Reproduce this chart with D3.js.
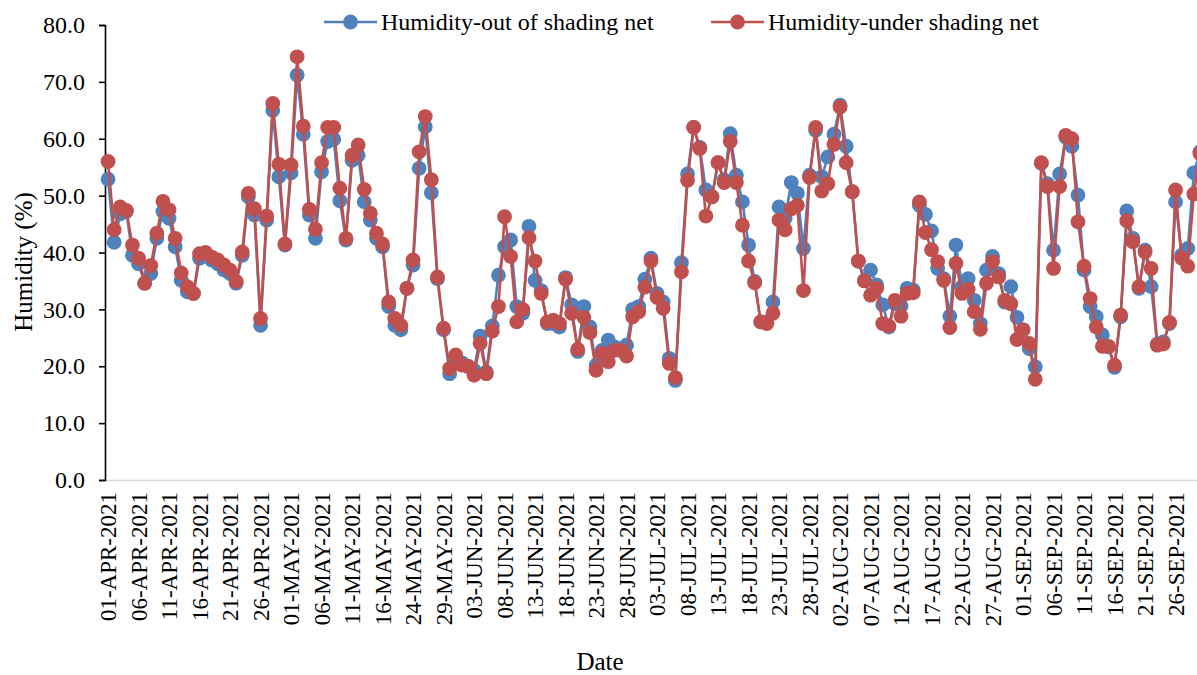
<!DOCTYPE html>
<html><head><meta charset="utf-8">
<script src="https://cdn.jsdelivr.net/npm/d3@7"></script>
<style>body{margin:0;background:#fff;overflow:hidden} svg{display:block}</style>
</head><body>
<svg id="c" width="1197" height="675"></svg>
<script>
const categories = [
"01-APR-2021","02-APR-2021","03-APR-2021","04-APR-2021","05-APR-2021","06-APR-2021","07-APR-2021","08-APR-2021","09-APR-2021","10-APR-2021",
"11-APR-2021","12-APR-2021","13-APR-2021","14-APR-2021","15-APR-2021","16-APR-2021","17-APR-2021","18-APR-2021","19-APR-2021","20-APR-2021",
"21-APR-2021","22-APR-2021","23-APR-2021","24-APR-2021","25-APR-2021","26-APR-2021","27-APR-2021","28-APR-2021","29-APR-2021","30-APR-2021",
"01-MAY-2021","02-MAY-2021","03-MAY-2021","04-MAY-2021","05-MAY-2021","06-MAY-2021","07-MAY-2021","08-MAY-2021","09-MAY-2021","10-MAY-2021",
"11-MAY-2021","12-MAY-2021","13-MAY-2021","14-MAY-2021","15-MAY-2021","16-MAY-2021","17-MAY-2021","18-MAY-2021","22-MAY-2021","23-MAY-2021",
"24-MAY-2021","25-MAY-2021","26-MAY-2021","27-MAY-2021","28-MAY-2021","29-MAY-2021","30-MAY-2021","31-MAY-2021",
"01-JUN-2021","02-JUN-2021","03-JUN-2021","04-JUN-2021","05-JUN-2021","06-JUN-2021","07-JUN-2021","08-JUN-2021","09-JUN-2021","10-JUN-2021",
"11-JUN-2021","12-JUN-2021","13-JUN-2021","14-JUN-2021","15-JUN-2021","16-JUN-2021","17-JUN-2021","18-JUN-2021","19-JUN-2021","20-JUN-2021",
"21-JUN-2021","22-JUN-2021","23-JUN-2021","24-JUN-2021","25-JUN-2021","26-JUN-2021","27-JUN-2021","28-JUN-2021","29-JUN-2021","30-JUN-2021",
"01-JUL-2021","02-JUL-2021","03-JUL-2021","04-JUL-2021","05-JUL-2021","06-JUL-2021","07-JUL-2021","08-JUL-2021","09-JUL-2021","10-JUL-2021",
"11-JUL-2021","12-JUL-2021","13-JUL-2021","14-JUL-2021","15-JUL-2021","16-JUL-2021","17-JUL-2021","18-JUL-2021","19-JUL-2021","20-JUL-2021",
"21-JUL-2021","22-JUL-2021","23-JUL-2021","24-JUL-2021","25-JUL-2021","26-JUL-2021","27-JUL-2021","28-JUL-2021","29-JUL-2021","30-JUL-2021","31-JUL-2021",
"01-AUG-2021","02-AUG-2021","03-AUG-2021","04-AUG-2021","05-AUG-2021","06-AUG-2021","07-AUG-2021","08-AUG-2021","09-AUG-2021","10-AUG-2021",
"11-AUG-2021","12-AUG-2021","13-AUG-2021","14-AUG-2021","15-AUG-2021","16-AUG-2021","17-AUG-2021","18-AUG-2021","19-AUG-2021","20-AUG-2021",
"21-AUG-2021","22-AUG-2021","23-AUG-2021","24-AUG-2021","25-AUG-2021","26-AUG-2021","27-AUG-2021","28-AUG-2021","29-AUG-2021","30-AUG-2021","31-AUG-2021",
"01-SEP-2021","02-SEP-2021","03-SEP-2021","04-SEP-2021","05-SEP-2021","06-SEP-2021","07-SEP-2021","08-SEP-2021","09-SEP-2021","10-SEP-2021",
"11-SEP-2021","12-SEP-2021","13-SEP-2021","14-SEP-2021","15-SEP-2021","16-SEP-2021","17-SEP-2021","18-SEP-2021","19-SEP-2021","20-SEP-2021",
"21-SEP-2021","22-SEP-2021","23-SEP-2021","24-SEP-2021","25-SEP-2021","26-SEP-2021","27-SEP-2021","28-SEP-2021","29-SEP-2021","30-SEP-2021"
];

const humidityOut = [
52.9,41.8,46.8,47.2,39.5,38.0,34.6,36.3,42.5,47.2,
46.0,41.0,35.1,33.1,32.8,39.0,39.5,38.7,38.0,36.9,
36.3,34.6,39.5,49.8,46.6,27.2,45.7,65.0,53.3,41.3,
54.0,71.2,60.8,46.6,42.5,54.2,59.5,59.9,49.1,42.2,
56.2,57.1,48.9,45.7,42.5,41.0,30.5,27.2,26.4,33.7,
37.8,54.8,62.1,50.5,35.4,26.4,18.7,21.1,20.6,20.0,
19.3,25.3,19.0,27.1,36.0,41.0,42.2,30.5,29.3,44.6,
35.1,33.3,27.5,27.5,26.9,35.6,30.8,22.6,30.5,26.9,
20.2,22.8,24.6,23.4,23.1,23.7,30.0,30.5,35.3,39.0,
32.8,31.3,21.4,17.5,38.2,53.8,62.0,58.5,51.0,49.8,
55.8,52.8,60.9,53.6,48.9,41.3,34.9,27.8,27.8,31.3,
48.0,46.0,52.3,50.4,40.7,53.6,61.5,53.3,56.8,60.8,
65.9,58.7,50.7,38.5,35.1,36.9,34.3,30.8,26.9,31.0,
30.6,33.7,33.4,48.3,46.7,43.8,37.2,35.4,28.8,41.3,
34.0,35.4,31.6,27.5,36.9,39.3,36.3,31.3,34.0,28.6,
26.4,23.1,19.9,55.7,52.1,40.4,53.8,60.3,58.7,50.1,
36.9,30.5,28.7,25.5,23.4,19.8,28.7,47.3,42.5,33.7,
40.4,34.0,23.9,24.3,27.5,48.9,39.5,40.7,54.0,57.7
];

const humidityUnder = [
56.0,44.0,48.0,47.4,41.3,39.0,34.6,37.7,43.4,49.0,
47.5,42.5,36.4,34.0,32.8,39.8,40.0,39.2,38.7,37.8,
36.9,34.9,40.1,50.4,47.7,28.4,46.4,66.2,55.5,41.5,
55.4,74.4,62.2,47.6,44.1,55.8,62.0,62.0,51.3,42.5,
57.1,58.9,51.1,46.9,43.4,41.5,31.3,28.4,27.2,33.7,
38.7,57.7,63.9,52.8,35.7,26.7,19.6,22.0,20.2,20.0,
18.4,24.0,18.7,26.2,30.5,46.3,39.3,27.8,30.0,42.6,
38.5,32.8,27.8,28.1,27.5,35.3,29.3,23.0,28.6,25.9,
19.3,22.3,20.8,22.8,22.8,21.8,28.7,29.6,33.9,38.5,
32.1,30.2,20.5,18.0,36.6,52.7,62.0,58.3,46.4,49.8,
55.8,52.3,59.5,52.3,44.8,38.5,34.7,27.8,27.5,29.3,
45.7,44.0,47.7,48.3,33.3,53.2,62.0,50.8,52.1,59.0,
65.6,55.8,50.7,38.5,35.0,32.5,33.7,27.5,27.1,31.6,
28.8,32.8,32.9,48.9,43.5,40.5,38.4,35.1,26.8,38.1,
32.8,33.5,29.6,26.5,34.6,38.4,35.7,31.6,31.0,24.7,
26.4,24.0,17.7,55.8,51.6,37.2,51.6,60.6,60.0,45.4,
37.6,31.9,26.9,23.5,23.5,20.2,29.0,45.6,41.9,34.0,
40.1,37.2,23.7,23.9,27.7,51.0,39.0,37.6,50.3,57.4
];

const yTicks = [0,10,20,30,40,50,60,70,80];

const tickLabels = [
"01-APR-2021","06-APR-2021","11-APR-2021","16-APR-2021","21-APR-2021","26-APR-2021",
"01-MAY-2021","06-MAY-2021","11-MAY-2021","16-MAY-2021","24-MAY-2021","29-MAY-2021",
"03-JUN-2021","08-JUN-2021","13-JUN-2021","18-JUN-2021","23-JUN-2021","28-JUN-2021",
"03-JUL-2021","08-JUL-2021","13-JUL-2021","18-JUL-2021","23-JUL-2021","28-JUL-2021",
"02-AUG-2021","07-AUG-2021","12-AUG-2021","17-AUG-2021","22-AUG-2021","27-AUG-2021",
"01-SEP-2021","06-SEP-2021","11-SEP-2021","16-SEP-2021","21-SEP-2021","26-SEP-2021"
];

const seriesNames = ["Humidity-out of shading net", "Humidity-under shading net"];
const seriesColors = ["#4F81BD", "#C0504D"];
const yTitle = "Humidity (%)";
const xTitle = "Date";

const FONT = "'Liberation Serif','Times New Roman',Times,serif";
const svg = d3.select("#c");

const plotLeft = 105, plotTop = 25, plotBottom = 480, catStep = 6.1;
const x = d3.scaleBand().domain(categories).range([plotLeft, plotLeft + catStep * categories.length]);
const y = d3.scaleLinear().domain([0, 80]).range([plotBottom, plotTop]);
const cx = d => x(d) + x.bandwidth() / 2;

// X axis (light gray baseline, rotated labels)
const xAxis = d3.axisBottom(x).tickValues(tickLabels).tickSize(0).tickPadding(0);
const gx = svg.append("g").attr("transform", `translate(0,${plotBottom})`).call(xAxis);
gx.attr("font-family", FONT);
gx.select(".domain").attr("stroke", "#D9D9D9").attr("stroke-width", 1.3);
gx.selectAll(".tick text")
  .attr("font-family", FONT).attr("font-size", 23).attr("fill", "#000")
  .attr("text-anchor", "end")
  .attr("transform", "translate(0,12) rotate(-90)")
  .attr("x", 0).attr("y", 0).attr("dy", "0.35em");

// Y axis
const yAxis = d3.axisLeft(y).tickValues(yTicks).tickFormat(d3.format(".1f")).tickSize(6).tickPadding(14);
const gy = svg.append("g").attr("transform", `translate(${plotLeft},0)`).call(yAxis);
gy.attr("font-family", FONT);
gy.select(".domain").attr("stroke", "#000").attr("stroke-width", 1.6);
gy.selectAll(".tick line").attr("stroke", "#000").attr("stroke-width", 1.6);
gy.selectAll(".tick text").attr("font-family", FONT).attr("font-size", 24).attr("fill", "#000");

// Series
const seriesData = [humidityOut, humidityUnder];
const line = d3.line().x((v, i) => cx(categories[i])).y(v => y(v));
seriesData.forEach((vals, s) => {
  const g = svg.append("g");
  g.append("path").attr("d", line(vals)).attr("fill", "none")
    .attr("stroke", seriesColors[s]).attr("stroke-width", 2.6).attr("stroke-linejoin", "round");
  g.selectAll("circle").data(vals).join("circle")
    .attr("cx", (v, i) => cx(categories[i])).attr("cy", v => y(v)).attr("r", 7.4)
    .attr("fill", seriesColors[s]);
});

// Axis titles
svg.append("text").attr("transform", `translate(23,262) rotate(-90)`)
  .attr("text-anchor", "middle").attr("dy", "0.35em")
  .attr("font-family", FONT).attr("font-size", 25).text(yTitle);
svg.append("text").attr("x", 600).attr("y", 670)
  .attr("text-anchor", "middle")
  .attr("font-family", FONT).attr("font-size", 25).text(xTitle);

// Legend
const legendX = [324, 711];
seriesNames.forEach((name, s) => {
  const g = svg.append("g").attr("transform", `translate(${legendX[s]},22)`);
  g.append("line").attr("x1", 0).attr("x2", 53).attr("y1", 0).attr("y2", 0)
    .attr("stroke", seriesColors[s]).attr("stroke-width", 2.6);
  g.append("circle").attr("cx", 26.5).attr("cy", 0).attr("r", 7.4).attr("fill", seriesColors[s]);
  g.append("text").attr("x", 57).attr("y", 0).attr("dy", "0.35em")
    .attr("font-family", FONT).attr("font-size", 24).attr("fill", "#000").text(name);
});
</script>
</body></html>
